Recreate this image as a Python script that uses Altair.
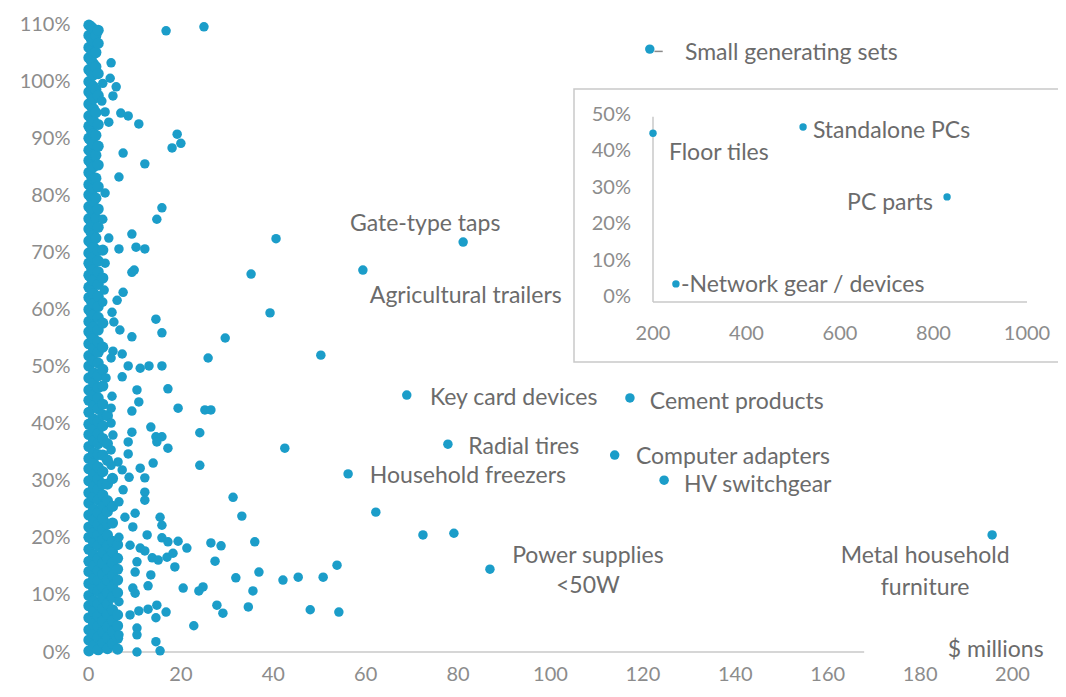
import altair as alt
import pandas as pd

BLUE = "#1b9dc9"
TICK_GRAY = "#8c8c8c"
TEXT_GRAY = "#6b6b6b"
LINE_GRAY = "#c9c9c9"
FONT = "Lato"

# ---------------- main chart data ($ millions, %) ----------------
# dense column of small categories near x = 0
dense_a_x = 0.2
dense_a_y = [0.2, 2.1, 3.9, 6.0, 8.1, 9.9, 12.0, 14.1, 15.9, 18.0, 20.1, 21.9, 24.0, 26.1, 27.9,
             30.0, 32.1, 33.9, 36.0, 38.1, 39.9, 42.0, 44.1, 45.9, 48.0, 50.1, 51.9, 54.0, 56.1,
             57.9, 60.0, 62.1, 63.9, 66.0, 68.1, 69.9, 72.0, 74.1, 75.9, 78.0, 80.1, 81.9, 84.0,
             86.1, 87.9, 90.0, 92.1, 93.9, 96.0, 98.1, 99.9, 102.0, 104.1, 105.9, 108.0, 109.8]
dense_h_x = 0.7
dense_h_y = [55.5, 57.5, 59.4, 61.5, 63.6, 65.5, 67.4, 69.5, 71.6, 73.5, 75.4, 77.5, 79.6, 81.5,
             83.4, 85.5, 87.6, 89.5, 91.4, 93.5, 95.6, 97.5, 99.4, 101.5, 103.6, 105.5, 107.4,
             109.5]
dense_b_x = 1.2
dense_b_y = [1.1, 3.2, 4.9, 7.1, 9.0, 11.2, 12.8, 15.1, 17.0, 19.2, 20.9, 23.1, 25.0, 27.2, 28.9,
             31.0, 33.1, 34.9, 37.0, 39.2, 40.8, 43.1, 45.0, 47.2, 48.9, 51.0, 53.1, 54.9, 57.0,
             59.1, 61.0, 62.8, 65.1, 67.0, 69.2, 70.9, 73.0, 75.1, 76.9, 79.0, 81.2, 82.9, 85.0,
             87.1, 89.0, 90.8, 93.0, 95.1, 96.9, 99.0, 101.1, 103.0, 104.8, 107.0, 109.1]
dense_i_x = 1.7
dense_i_y = [72.5, 76.0, 79.5, 83.0, 87.0, 90.5, 94.5, 98.5, 102.5, 105.0, 108.0]
dense_c_x = 2.2
dense_c_y = [0.4, 2.6, 4.5, 6.3, 8.4, 10.6, 12.5, 14.3, 16.4, 18.6, 20.5, 22.3, 24.4, 26.6, 28.5,
             30.3, 32.4, 34.6, 36.5, 38.3, 40.4, 42.6, 44.5, 46.3, 48.4, 50.6, 52.5, 54.3, 56.4,
             58.6, 60.5, 62.3, 64.4, 66.6, 68.5, 70.3, 74.4, 77.6, 81.5, 85.3, 88.6, 92.4, 97.5,
             101.3, 106.6, 108.9]
dense_d_x = 3.2
dense_d_y = [1.6, 3.5, 5.4, 7.6, 9.5, 11.4, 13.6, 15.5, 17.4, 19.6, 21.5, 23.4, 25.6, 27.5, 29.4,
             31.6, 34.5, 37.4, 39.6, 41.5, 43.4, 46.6, 49.5, 53.4, 57.6, 65.5, 70.4]
dense_e_x = 4.2
dense_e_y = [0.6, 2.5, 4.4, 6.6, 8.5, 10.4, 12.6, 14.5, 16.4, 18.6, 20.5, 22.4, 24.6, 26.5, 29.4,
             33.6, 36.5, 41.4]
dense_f_x = 5.3
dense_f_y = [1.5, 3.6, 5.5, 7.4, 9.6, 11.5, 13.4, 15.6, 17.5, 19.4, 22.6, 25.5, 30.4]
dense_g_x = 6.4
dense_g_y = [0.5, 2.4, 4.6, 6.5, 10.4, 12.6, 14.5, 16.4, 18.8]

# scattered unlabeled categories
scatter_x = [16.9, 25.1, 5.0, 4.8, 6.1, 5.4, 3.2, 3.0, 3.7, 7.1, 8.7, 4.5, 11.0, 19.3, 20.1, 18.2,
             7.6, 12.3, 6.7, 3.7, 16.0, 14.9, 3.2, 9.5, 4.5, 6.7, 10.4, 12.3, 3.7, 10.0, 9.5, 35.3,
             3.5, 7.6, 6.3, 3.2, 5.2, 14.7, 5.6, 6.9, 16.0, 9.5, 29.7, 40.7, 39.4, 50.4,
             5.4, 7.4, 5.0, 26.0, 8.7, 11.3, 13.2, 16.0, 7.4, 3.9, 10.6, 17.3, 5.2, 11.0, 19.5,
             25.3, 26.6, 5.0, 9.5, 5.0, 13.6, 9.5, 24.2, 5.4, 14.7, 16.0, 14.9, 8.7, 17.3, 5.0,
             8.7, 14.1, 24.2, 6.5, 5.0, 11.3, 7.4, 12.3, 8.9, 7.6, 12.3, 31.4,
             42.6, 62.3, 36.1, 37.0, 35.7, 34.7, 42.2, 45.5, 50.9, 53.9, 48.1, 54.3,
             33.3, 72.5, 79.2, 26.6, 28.8, 27.5, 32.0, 24.9, 27.9, 29.2,
             12.3, 6.7, 8.0, 10.2, 15.6, 16.0, 9.7, 12.8, 16.0, 17.3, 19.5, 21.4, 9.1, 11.3,
             12.3, 6.7, 13.9, 15.2, 17.1, 18.4, 10.6, 10.2, 18.8, 13.6, 13.0, 9.7, 10.2, 20.6,
             24.0, 6.7, 9.1, 11.0, 13.0, 14.9, 16.9, 14.7, 22.9, 6.7, 10.6, 10.6, 14.7, 10.6, 15.6]
scatter_y = [108.8, 109.5, 103.2, 100.5, 99.0, 97.4, 99.6, 96.5, 94.6, 94.4, 93.9, 92.8, 92.5, 90.7,
             89.1, 88.3, 87.4, 85.5, 83.2, 80.4, 77.8, 75.8, 75.8, 73.2, 72.5, 70.6, 70.9, 70.6,
             68.1, 66.9, 66.5, 66.2, 63.4, 63.0, 61.6, 61.3, 59.5, 58.3, 57.8, 56.4, 55.9, 55.2,
             55.0, 72.4, 59.4, 52.0,
             52.7, 52.2, 51.5, 51.5, 50.1, 49.7, 50.1, 50.1, 48.2, 48.0, 45.9, 46.1, 44.8, 43.8,
             42.7, 42.4, 42.4, 42.7, 42.2, 40.1, 39.4, 38.5, 38.4, 38.0, 37.7, 37.7, 36.8, 36.8,
             35.7, 35.4, 34.7, 33.1, 32.7, 33.3, 32.7, 32.2, 31.9, 30.5, 30.6, 28.4, 28.0, 27.1,
             35.7, 24.5, 19.3, 14.0, 10.7, 7.9, 12.6, 13.1, 13.1, 15.2, 7.4, 7.0,
             23.8, 20.5, 20.8, 19.1, 18.6, 15.9, 13.0, 11.4, 8.2, 6.8,
             26.6, 26.3, 23.6, 24.3, 23.6, 22.2, 21.9, 20.5, 20.0, 19.3, 19.4, 18.2, 18.7, 18.2,
             17.7, 20.1, 16.5, 16.1, 16.6, 17.3, 15.8, 14.0, 14.9, 13.5, 11.6, 11.2, 10.3, 11.2,
             10.7, 8.8, 6.5, 7.2, 7.5, 8.2, 7.0, 6.0, 4.6, 3.0, 4.2, 3.0, 1.8, 0.0, 0.2]

# labelled categories
named_x = [121.6, 81.2, 59.5, 69.0, 117.3, 77.9, 114.0, 124.7, 56.3, 87.0, 195.7]
named_y = [105.6, 71.8, 66.9, 45.0, 44.5, 36.4, 34.5, 30.1, 31.2, 14.5, 20.5]

# annotation texts (left aligned)
left_text = ["Small generating sets", "Gate-type taps", "Agricultural trailers", "Key card devices",
             "Cement products", "Radial tires", "Computer adapters", "HV switchgear",
             "Household freezers", "$ millions"]
left_text_x = [129.2, 56.7, 61.0, 74.0, 121.6, 82.3, 118.6, 129.0, 61.0, 186.1]
left_text_y = [104.9, 75.0, 62.3, 44.5, 43.8, 35.9, 34.1, 29.3, 30.8, 0.4]
# annotation texts (centred, two-line labels)
center_text = ["Power supplies", "<50W", "Metal household", "furniture"]
center_text_x = [108.2, 108.2, 181.2, 181.2]
center_text_y = [16.8, 11.6, 16.8, 11.2]
# leader dash next to "Small generating sets"
leader_x = [122.6]
leader_x2 = [124.4]
leader_y = [105.2]
axis_line_end = [168]

x_ticks = [0, 20, 40, 60, 80, 100, 120, 140, 160, 180, 200]
y_ticks = [0, 10, 20, 30, 40, 50, 60, 70, 80, 90, 100, 110]

# ---------------- inset data ----------------
inset_x = [200, 521, 829, 249]
inset_y = [45.0, 46.7, 27.5, 3.6]
inset_left_text = ["Floor tiles", "Standalone PCs", "-Network gear / devices"]
inset_left_x = [234, 542, 260]
inset_left_y = [39.5, 45.7, 3.3]
inset_right_text = ["PC parts"]
inset_right_x = [799]
inset_right_y = [25.9]
inset_x_ticks = [200, 400, 600, 800, 1000]
inset_y_ticks = [0, 10, 20, 30, 40, 50]
inset_axis_y0 = -1.4      # level of the inset's horizontal axis line
inset_axis_ytop = 49.5    # top of the inset's vertical axis line
inset_axis_x0 = 200       # position of the inset's vertical axis line

# ---------------- build tables ----------------
dense_cols = [(dense_a_x, dense_a_y), (dense_h_x, dense_h_y), (dense_b_x, dense_b_y),
              (dense_i_x, dense_i_y), (dense_c_x, dense_c_y), (dense_d_x, dense_d_y),
              (dense_e_x, dense_e_y), (dense_f_x, dense_f_y), (dense_g_x, dense_g_y)]
dn_x, dn_y = [], []
for cx, ys in dense_cols:
    dn_x += [cx] * len(ys)
    dn_y += ys
df_dense = pd.DataFrame({"x": dn_x, "y": dn_y})
df_pts = pd.DataFrame({"x": scatter_x + named_x, "y": scatter_y + named_y})

df_left = pd.DataFrame({"x": left_text_x, "y": left_text_y, "t": left_text})
df_center = pd.DataFrame({"x": center_text_x, "y": center_text_y, "t": center_text})
df_leader = pd.DataFrame({"x": leader_x, "x2": leader_x2, "y": leader_y})
df_axis = pd.DataFrame({"x": [0], "x2": axis_line_end, "y": [0]})

df_inset = pd.DataFrame({"x": inset_x, "y": inset_y})
df_inset_left = pd.DataFrame({"x": inset_left_x, "y": inset_left_y, "t": inset_left_text})
df_inset_right = pd.DataFrame({"x": inset_right_x, "y": inset_right_y, "t": inset_right_text})
df_ixt = pd.DataFrame({"x": inset_x_ticks, "y": [inset_axis_y0] * len(inset_x_ticks),
                       "t": [str(v) for v in inset_x_ticks]})
df_iyt = pd.DataFrame({"x": [inset_axis_x0] * len(inset_y_ticks), "y": inset_y_ticks,
                       "t": [f"{v}%" for v in inset_y_ticks]})
df_ixline = pd.DataFrame({"x": [inset_x_ticks[0]], "x2": [inset_x_ticks[-1]], "y": [inset_axis_y0]})
df_iyline = pd.DataFrame({"x": [inset_axis_x0], "y": [inset_axis_y0], "y2": [inset_axis_ytop]})

W, H = 924, 628
DOT = 90
DENSE_DOT = 125
LABEL_SIZE = 23

xs = alt.Scale(domain=[0, 200], nice=False, zero=False)
ys_ = alt.Scale(domain=[0, 110], nice=False, zero=False)

x_axis = alt.Axis(values=x_ticks, domain=False, ticks=False, grid=False, labelPadding=12,
                  labelFlush=False, labelOverlap=False, title=None)
y_axis = alt.Axis(values=y_ticks, labelExpr="datum.value + '%'", domain=False, ticks=False,
                  grid=False, labelPadding=18, labelFlush=False, labelOverlap=False, title=None)

axis_rule = alt.Chart(df_axis).mark_rule(color=LINE_GRAY, strokeWidth=1.5).encode(
    x=alt.X("x:Q", scale=xs, axis=x_axis), x2="x2:Q",
    y=alt.Y("y:Q", scale=ys_, axis=y_axis))

dense = alt.Chart(df_dense).mark_circle(size=DENSE_DOT, color=BLUE, opacity=1).encode(
    x=alt.X("x:Q", scale=xs), y=alt.Y("y:Q", scale=ys_))
points = alt.Chart(df_pts).mark_circle(size=DOT, color=BLUE, opacity=1).encode(
    x=alt.X("x:Q", scale=xs), y=alt.Y("y:Q", scale=ys_))

leader = alt.Chart(df_leader).mark_rule(color="#8a8a8a", strokeWidth=1.5).encode(
    x="x:Q", x2="x2:Q", y="y:Q")

left_labels = alt.Chart(df_left).mark_text(align="left", baseline="middle", font=FONT,
                                            fontSize=LABEL_SIZE, color=TEXT_GRAY).encode(
    x="x:Q", y="y:Q", text="t:N")
center_labels = alt.Chart(df_center).mark_text(align="center", baseline="middle", font=FONT,
                                                fontSize=LABEL_SIZE, color=TEXT_GRAY).encode(
    x="x:Q", y="y:Q", text="t:N")

box = alt.Chart(pd.DataFrame({"k": [0]})).mark_rect(fill="white", stroke=LINE_GRAY,
                                                     strokeWidth=1.5).encode(
    x=alt.value(486), x2=alt.value(1000), y=alt.value(65), y2=alt.value(338))

main = alt.layer(axis_rule, box, dense, points, leader, left_labels, center_labels)

# inset: own scales mapped into the upper-right part of the plot area
ixs = alt.Scale(domain=[200, 1000], range=[565, 939], nice=False, zero=False)
iys = alt.Scale(domain=[0, 50], range=[273, 91], nice=False, zero=False)

ix_line = alt.Chart(df_ixline).mark_rule(color=LINE_GRAY, strokeWidth=1.5).encode(
    x=alt.X("x:Q", scale=ixs, axis=None), x2="x2:Q", y=alt.Y("y:Q", scale=iys, axis=None))
iy_line = alt.Chart(df_iyline).mark_rule(color=LINE_GRAY, strokeWidth=1.5).encode(
    x="x:Q", y="y:Q", y2="y2:Q")
ix_labels = alt.Chart(df_ixt).mark_text(align="center", baseline="middle", dy=32, font=FONT,
                                         fontSize=20, color=TICK_GRAY).encode(
    x="x:Q", y="y:Q", text="t:N")
iy_labels = alt.Chart(df_iyt).mark_text(align="right", baseline="middle", dx=-22, font=FONT,
                                         fontSize=20, color=TICK_GRAY).encode(
    x="x:Q", y="y:Q", text="t:N")
inset_pts = alt.Chart(df_inset).mark_circle(size=55, color=BLUE, opacity=1).encode(
    x="x:Q", y="y:Q")
inset_lt = alt.Chart(df_inset_left).mark_text(align="left", baseline="middle", font=FONT,
                                               fontSize=LABEL_SIZE, color=TEXT_GRAY).encode(
    x="x:Q", y="y:Q", text="t:N")
inset_rt = alt.Chart(df_inset_right).mark_text(align="right", baseline="middle", font=FONT,
                                                fontSize=LABEL_SIZE, color=TEXT_GRAY).encode(
    x="x:Q", y="y:Q", text="t:N")
inset = alt.layer(ix_line, iy_line, ix_labels, iy_labels, inset_pts, inset_lt, inset_rt)

chart = alt.layer(main, inset).resolve_scale(x="independent", y="independent").properties(
    width=W, height=H,
    autosize=alt.AutoSizeParams(type="none"),
    padding={"left": 80, "top": 16, "right": 46, "bottom": 36},
).configure_view(stroke=None).configure_axis(
    labelFont=FONT, labelFontSize=20, labelColor=TICK_GRAY
)

chart.save("out.html", embed_options={"renderer": "svg", "actions": False})
